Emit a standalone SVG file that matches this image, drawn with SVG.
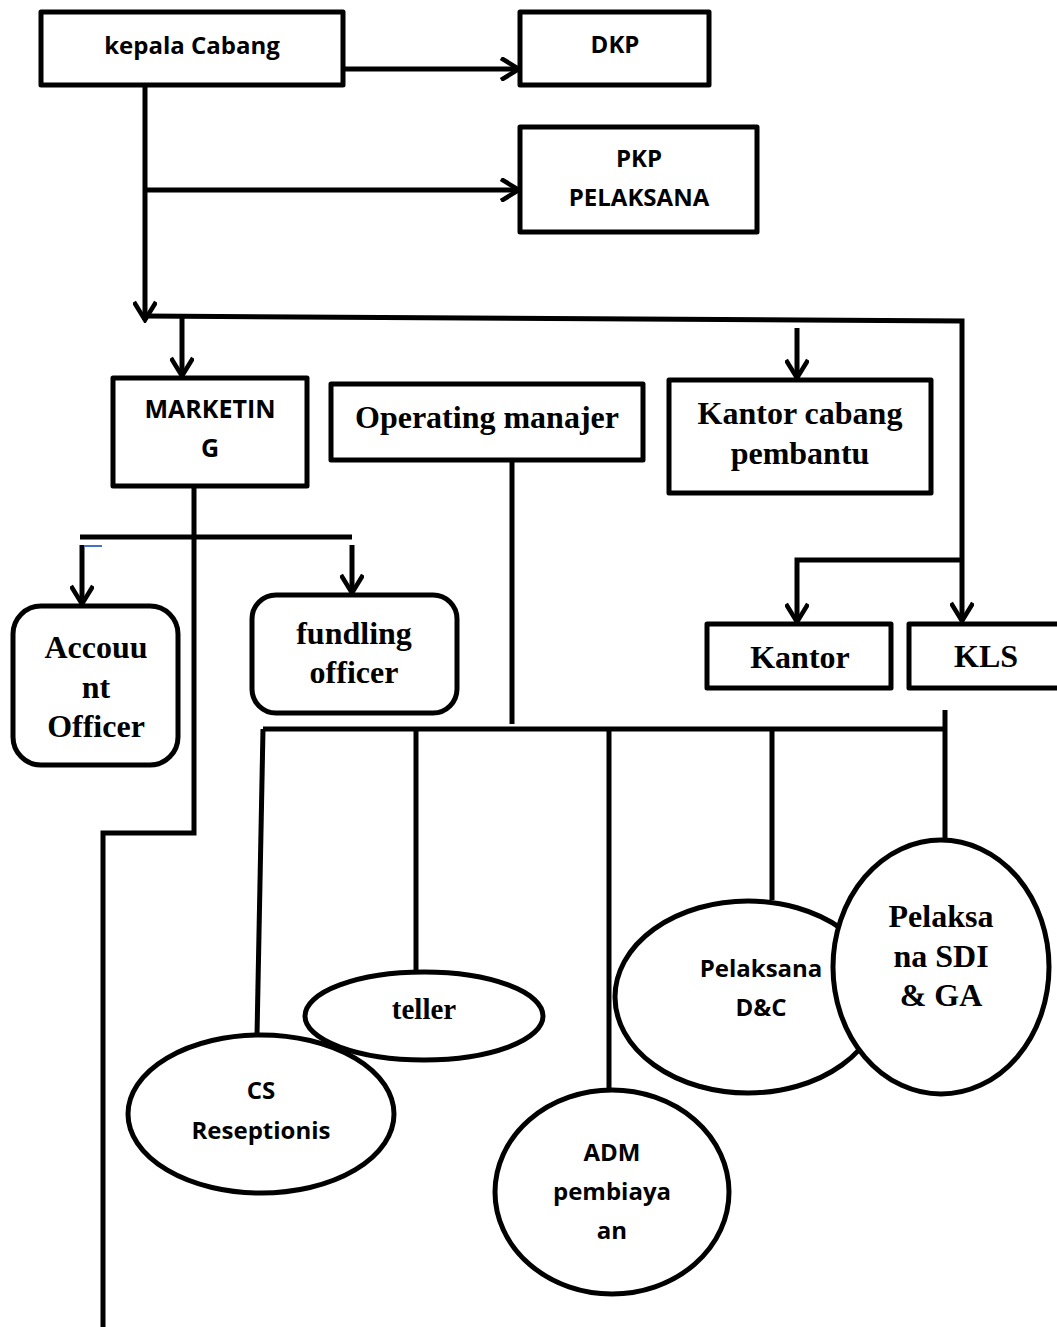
<svg xmlns="http://www.w3.org/2000/svg" width="1057" height="1327" viewBox="0 0 1057 1327">
<style>
.box{fill:#fff;stroke:#000;stroke-width:5;stroke-linejoin:round}
.ln{fill:none;stroke:#000;stroke-width:5}
.sans{font-family:"Open Sans","Liberation Sans",sans-serif;font-weight:bold;fill:#000;text-anchor:middle;font-size:24px}
.serif{font-family:"Liberation Serif","Times New Roman",serif;font-weight:bold;fill:#000;text-anchor:middle;font-size:32px}
</style>
<defs>
<marker id="arr" viewBox="0 0 24 24" refX="21" refY="12" markerWidth="24" markerHeight="24" markerUnits="userSpaceOnUse" orient="auto">
<path d="M3,1 L21,12 L3,23" fill="none" stroke="#000" stroke-width="4.5"/>
</marker>
</defs>
<rect width="1057" height="1327" fill="#fff"/>

<g id="connectors">
<path class="ln" d="M343,69 H519" marker-end="url(#arr)"/>
<path class="ln" d="M145,85 V320" marker-end="url(#arr)"/>
<path class="ln" d="M145,190 H519" marker-end="url(#arr)"/>
<path class="ln" d="M145,316 L962,321 V621" marker-end="url(#arr)"/>
<path class="ln" d="M182,317 V376" marker-end="url(#arr)"/>
<path class="ln" d="M797,328 V378" marker-end="url(#arr)"/>
<path class="ln" d="M962,560 H797 V622" marker-end="url(#arr)"/>
<path class="ln" d="M194,486 V833 H103 V1327"/>
<path class="ln" d="M80,537 H352"/>
<path class="ln" d="M82,545 V604" marker-end="url(#arr)"/>
<path class="ln" d="M352,545 V593" marker-end="url(#arr)"/>
<path d="M84,546 H102" stroke="#4472C4" stroke-width="2"/>
<path class="ln" d="M512,455 V724"/>
<path class="ln" d="M263,729 H945"/>
<path class="ln" d="M945,710 V840"/>
<path class="ln" d="M263,729 L257,1036"/>
<path class="ln" d="M416,729 V972"/>
<path class="ln" d="M609,729 V1090"/>
<path class="ln" d="M772,729 V900"/>
</g>

<g id="kepala-cabang">
<rect class="box" x="41" y="12" width="302" height="73"/>
<text class="sans" x="192" y="54">kepala Cabang</text>
</g>
<g id="dkp">
<rect class="box" x="520" y="12" width="189" height="73"/>
<text class="sans" x="615" y="53">DKP</text>
</g>
<g id="pkp-pelaksana">
<rect class="box" x="520" y="127" width="237" height="105"/>
<text class="sans" x="639" y="167">PKP</text>
<text class="sans" x="639" y="206">PELAKSANA</text>
</g>
<g id="marketing">
<rect class="box" x="113" y="378" width="194" height="108"/>
<text class="sans" x="210" y="418" style="font-size:25px">MARKETIN</text>
<text class="sans" x="210" y="457" style="font-size:25px">G</text>
</g>
<g id="operating-manajer">
<rect class="box" x="331" y="384" width="312" height="76"/>
<text class="serif" x="487" y="428">Operating manajer</text>
</g>
<g id="kantor-cabang-pembantu">
<rect class="box" x="669" y="380" width="262" height="113"/>
<text class="serif" x="800" y="424">Kantor cabang</text>
<text class="serif" x="800" y="464">pembantu</text>
</g>
<g id="kantor">
<rect class="box" x="707" y="624" width="184" height="64"/>
<text class="serif" x="800" y="668">Kantor</text>
</g>
<g id="kls">
<rect class="box" x="909" y="624" width="160" height="64"/>
<text class="serif" x="986" y="667">KLS</text>
</g>
<g id="account-officer">
<rect class="box" x="13" y="606" width="165" height="159" rx="28"/>
<text class="serif" x="96" y="658">Accouu</text>
<text class="serif" x="96" y="698">nt</text>
<text class="serif" x="96" y="737">Officer</text>
</g>
<g id="fundling-officer">
<rect class="box" x="252" y="595" width="205" height="118" rx="24"/>
<text class="serif" x="354" y="644">fundling</text>
<text class="serif" x="354" y="683">officer</text>
</g>
<g id="cs-reseptionis">
<ellipse class="box" cx="261" cy="1114" rx="133" ry="79"/>
<text class="sans" x="261" y="1099">CS</text>
<text class="sans" x="261" y="1139">Reseptionis</text>
</g>
<g id="teller">
<ellipse class="box" cx="424" cy="1016" rx="119" ry="44"/>
<text class="serif" x="424" y="1019" style="font-size:29px">teller</text>
</g>
<g id="adm-pembiayaan">
<ellipse class="box" cx="612" cy="1192" rx="117" ry="102"/>
<text class="sans" x="612" y="1161">ADM</text>
<text class="sans" x="612" y="1200">pembiaya</text>
<text class="sans" x="612" y="1239">an</text>
</g>
<g id="pelaksana-dc">
<ellipse class="box" cx="748" cy="997" rx="133" ry="96"/>
<text class="sans" x="761" y="977">Pelaksana</text>
<text class="sans" x="761" y="1016">D&amp;C</text>
</g>
<g id="pelaksana-sdi-ga">
<ellipse class="box" cx="941" cy="967" rx="108" ry="127"/>
<text class="serif" x="941" y="927">Pelaksa</text>
<text class="serif" x="941" y="967">na SDI</text>
<text class="serif" x="941" y="1006">&amp; GA</text>
</g>
</svg>
